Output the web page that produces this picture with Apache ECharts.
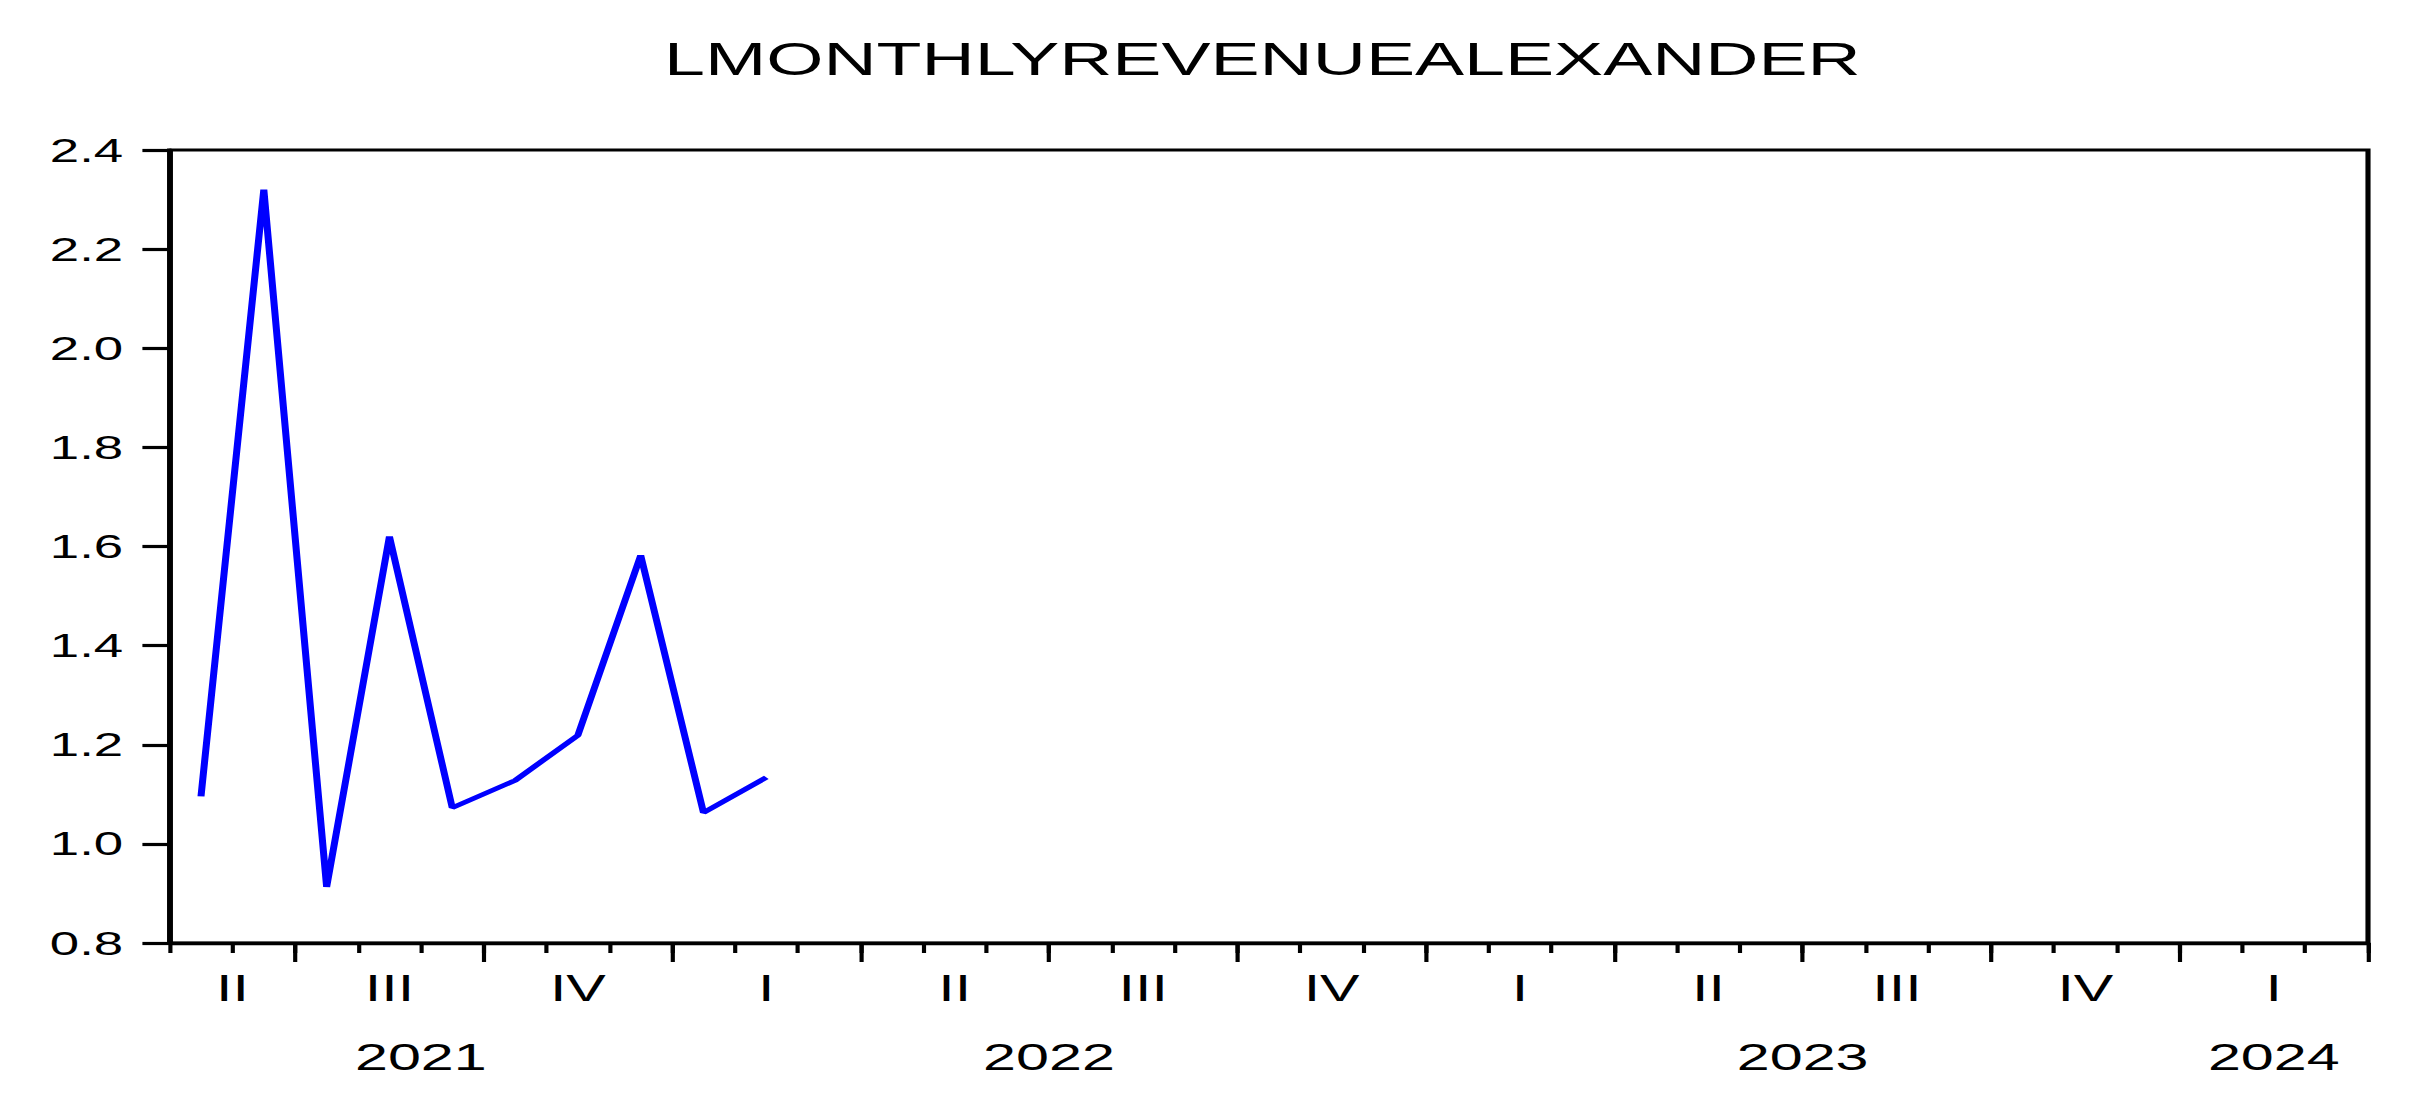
<!DOCTYPE html>
<html>
<head>
<meta charset="utf-8">
<script src="https://cdn.jsdelivr.net/npm/echarts@6/dist/echarts.min.js"></script>
<style>
  html, body { margin: 0; padding: 0; background: #fff; overflow: hidden; }
  /* the reference is an EViews graph stretched sideways, so draw narrow and stretch */
  #chart { width: 1515px; height: 1116px; transform: scaleX(1.6); transform-origin: 0 0; }
</style>
</head>
<body>
<div id="chart"></div>
<script>
// monthly axis, 2021M05 .. 2024M03
const months = [
  "2021M05", "2021M06", "2021M07", "2021M08", "2021M09", "2021M10", "2021M11", "2021M12",
  "2022M01", "2022M02", "2022M03", "2022M04", "2022M05", "2022M06", "2022M07", "2022M08",
  "2022M09", "2022M10", "2022M11", "2022M12", "2023M01", "2023M02", "2023M03", "2023M04",
  "2023M05", "2023M06", "2023M07", "2023M08", "2023M09", "2023M10", "2023M11", "2023M12",
  "2024M01", "2024M02", "2024M03"
];
// LMONTHLYREVENUEALEXANDER, first 10 months
const revenue = [1.096, 2.32, 0.913, 1.62, 1.073, 1.128, 1.219, 1.582, 1.063, 1.134];
const quarterNames = ["I", "II", "III", "IV"];
const yTicks = [0.8, 1.0, 1.2, 1.4, 1.6, 1.8, 2.0, 2.2, 2.4];

const FONT = "Liberation Sans";

// month boundaries, quarter boundaries, label positions
const n = months.length;
const monthTicks = [];
for (let i = 0; i <= n; i++) monthTicks.push(i);

const quarterTicks = [];
const quarterLabels = {};
const yearLabels = {};
const groups = (keyFn) => {
  const out = [];
  months.forEach((m, i) => {
    const k = keyFn(m);
    const last = out[out.length - 1];
    if (last && last.key === k) last.end = i + 1;
    else out.push({ key: k, start: i, end: i + 1 });
  });
  return out;
};
const quarterOf = (m) => m.slice(0, 4) + "Q" + Math.ceil(+m.slice(5) / 3);
groups(quarterOf).forEach((g) => {
  if (g.start > 0) quarterTicks.push(g.start);
  const c = (g.start + g.end) / 2;
  quarterLabels[c.toFixed(2)] = quarterNames[+g.key.slice(5) - 1];
});
quarterTicks.push(n);
groups((m) => m.slice(0, 4)).forEach((g) => {
  yearLabels[((g.start + g.end) / 2).toFixed(2)] = g.key;
});

const lineData = revenue.map((v, i) => [i + 0.5, v]);

const chart = echarts.init(document.getElementById("chart"), null, { renderer: "svg" });

const option = {
  backgroundColor: "#fff",
  animation: false,
  title: {
    text: "LMONTHLYREVENUEALEXANDER",
    left: 415,
    top: 36,
    padding: 0,
    textStyle: { fontFamily: FONT, fontSize: 46, fontWeight: "normal", color: "#000" },
  },
  grid: {
    left: 106,
    right: 35,
    top: 150,
    bottom: 173,
    show: true,
    borderColor: "#000",
    borderWidth: 3.2,
    backgroundColor: "#fff",
  },
  xAxis: [
    {
      type: "value",
      min: 0,
      max: n,
      position: "bottom",
      axisLine: { show: true, onZero: false, lineStyle: { color: "#000", width: 3.4 } },
      axisTick: {
        show: true,
        customValues: monthTicks,
        length: 10,
        lineStyle: { color: "#000", width: 2.6 },
      },
      axisLabel: {
        customValues: Object.keys(quarterLabels).map(Number),
        formatter: (v) => quarterLabels[v.toFixed(2)] || "",
        fontFamily: FONT,
        fontSize: 37,
        color: "#000",
        margin: 26,
      },
      splitLine: { show: false },
    },
    {
      type: "value",
      min: 0,
      max: n,
      position: "bottom",
      axisLine: { show: false },
      axisTick: {
        show: true,
        customValues: quarterTicks,
        length: 19,
        lineStyle: { color: "#000", width: 2.6 },
      },
      axisLabel: {
        customValues: Object.keys(yearLabels).map(Number),
        formatter: (v) => yearLabels[v.toFixed(2)] || "",
        fontFamily: FONT,
        fontSize: 37,
        color: "#000",
        margin: 95,
      },
      splitLine: { show: false },
    },
  ],
  yAxis: {
    type: "value",
    min: yTicks[0],
    max: yTicks[yTicks.length - 1],
    interval: 0.2,
    axisLine: { show: true, lineStyle: { color: "#000", width: 3.2 } },
    axisTick: { show: true, length: 17, lineStyle: { color: "#000", width: 3.2 } },
    axisLabel: {
      formatter: (v) => v.toFixed(1),
      fontFamily: FONT,
      fontSize: 33,
      color: "#000",
      margin: 29,
    },
    splitLine: { show: false },
  },
  series: [
    {
      name: "LMONTHLYREVENUEALEXANDER",
      type: "line",
      xAxisIndex: 0,
      data: lineData,
      showSymbol: false,
      lineStyle: { color: "#0000ff", width: 4.4 },
    },
  ],
};

chart.setOption(option);
</script>
</body>
</html>
